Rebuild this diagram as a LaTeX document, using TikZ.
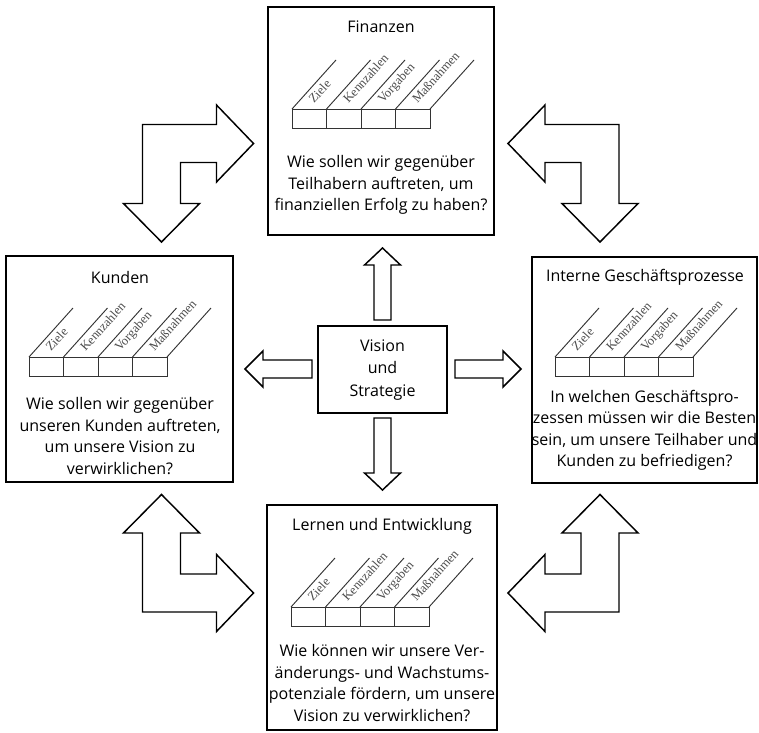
\documentclass[tikz,border=0pt]{standalone}
\usepackage{fontspec}
\setmainfont{Open Sans}
\newfontfamily\labelfont{Liberation Serif}
\newcommand\boxat[5]{\node[box, minimum width={(#4-#2)*0.75pt}, minimum height={(#5-#3)*0.75pt}] (#1) at ({(#2+#4)/2},{(#3+#5)/2}) {};}
\newcommand\kpitable[2]{%
 \begin{scope}[shift={(#1,#2)}]
  \draw[tbl] (0,0) rectangle (138,19.5);
  \foreach \i in {1,2,3} \draw[tbl] (\i*34.5,0) -- (\i*34.5,19.5);
  \foreach \i in {0,...,4} \draw[tbl] (\i*34.5,0) -- ++(44,-49);
  \foreach \t [count=\i from 0] in {Ziele,Kennzahlen,Vorgaben,Maßnahmen}
    \node[lbl] at (\i*34.5+22,-5) {\t};
 \end{scope}}
\newcommand\larrow[4]{%
 \begin{scope}[shift={(#1,#2)}, xscale=#3, yscale=#4]
 \draw[barrow] (-19,-19) -- (55,-19) -- (55,-38.5) -- (92,0) -- (55,38.5) -- (55,19) -- (19,19) -- (19,60) -- (38,60) -- (0,98.5) -- (-38,60) -- (-19,60) -- cycle;
 \end{scope}}
\begin{document}
\begin{tikzpicture}[x=0.75pt,y=-0.75pt,
  box/.style={draw, line width=1.5pt, inner sep=0pt, anchor=center},
  tbl/.style={draw=black!80, line width=0.7pt},
  lbl/.style={font=\labelfont\fontsize{9.5}{9.5}\selectfont, text=black!70, rotate=48, anchor=base west, inner sep=0pt},
  barrow/.style={draw, line width=1.1pt, fill=white, line join=miter},
  body/.style={align=center, font=\fontsize{12}{16.1}\selectfont, inner sep=0pt},
  ttl/.style={font=\fontsize{12}{16.1}\selectfont, inner sep=0pt}]
\useasboundingbox[fill=white] (0,0) rectangle (759,732);
% boxes
\boxat{fin}{268}{7}{494}{235}
\boxat{kun}{6}{256}{233}{482}
\boxat{int}{532}{257}{757}{483}
\boxat{lern}{267}{505}{497}{730}
\boxat{vis}{318}{326}{447}{413}
% titles
\node[ttl] (fint) at (381,27) {Finanzen};
\node[ttl] (kunt) at (120,277) {Kunden};
\node[ttl] (intt) at (645,277) {Interne Geschäftsprozesse};
\node[ttl] (lernt) at (382,526) {Lernen und Entwicklung};
% tables
\kpitable{292}{109}
\kpitable{29}{357}
\kpitable{555}{357}
\kpitable{291}{607}
% bodies
\node[body] (finb) at (381,185) {Wie sollen wir gegenüber\\Teilhabern auftreten, um\\finanziellen Erfolg zu haben?};
\node[body] (kunb) at (120,436) {Wie sollen wir gegenüber\\unseren Kunden auftreten,\\um unsere Vision zu\\verwirklichen?};
\node[body] (intb) at (644.5,430.5) {In welchen Geschäftspro-\\zessen müssen wir die Besten\\sein, um unsere Teilhaber und\\Kunden zu befriedigen?};
\node[body] (lernb) at (382,683) {Wie können wir unsere Ver-\\änderungs- und Wachstums-\\potenziale fördern, um unsere\\Vision zu verwirklichen?};
\node[body, font=\fontsize{12}{16.9}\selectfont] (visb) at (382.5,370) {Vision\\und\\Strategie};
% straight arrows
\draw[barrow] (374,320) -- (374,265) -- (364.5,265) -- (382.5,248) -- (400.5,265) -- (391,265) -- (391,320) -- cycle;
\draw[barrow] (374,418) -- (374,473) -- (364.5,473) -- (382.5,490) -- (400.5,473) -- (391,473) -- (391,418) -- cycle;
\draw[barrow] (312,360) -- (263,360) -- (263,351) -- (245,369) -- (263,387) -- (263,378) -- (312,378) -- cycle;
\draw[barrow] (455,360) -- (503,360) -- (503,351) -- (521,369) -- (503,387) -- (503,378) -- (455,378) -- cycle;
% corner arrows
\larrow{161.5}{143.5}{1}{1}
\larrow{600}{143.5}{-1}{1}
\larrow{161.5}{593}{1}{-1}
\larrow{600}{593}{-1}{-1}
\end{tikzpicture}
\end{document}
